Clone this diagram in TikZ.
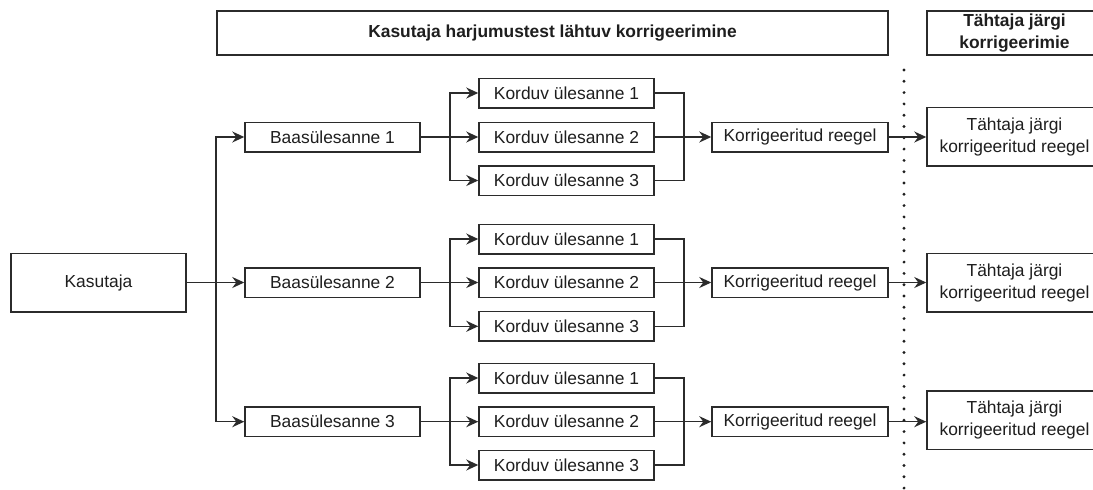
\documentclass[tikz,border=0pt]{standalone}
\usepackage{fontspec}
\setmainfont{Liberation Sans}
\usetikzlibrary{arrows.meta}
\definecolor{ln}{HTML}{2B2B2B}
\definecolor{tx}{HTML}{1E1E1E}
\tikzset{
  x=1pt, y=-1pt,
  box/.style={draw=ln, line width=1.5pt, fill=white, text=tx, inner sep=0pt, align=center,
    font=\fontsize{17.4}{22}\selectfont},
  small/.style={box, minimum width=175pt, minimum height=29.5pt},
  tall/.style={box, minimum width=175pt, minimum height=58.5pt},
  head/.style={box, minimum height=44pt, font=\fontsize{17.4}{22}\selectfont\bfseries},
  conn/.style={draw=ln, line width=1.5pt, -{Stealth[length=12pt,width=11pt,inset=4pt]}},
  line/.style={draw=ln, line width=1.5pt},
  dotline/.style={draw=tx, line width=3.2pt, line cap=round, dash pattern=on 0pt off 11.3pt}
}
\begin{document}
\begin{tikzpicture}
\clip (0,0) rectangle (1093,490);
\useasboundingbox (0,0) rectangle (1093,490);
\fill[white] (0,0) rectangle (1093,490);

% dotted separator
\coordinate (dtop) at (904,70);
\coordinate (dbot) at (904,492);
\draw[dotline] (dtop) -- (dbot);

% headers
\node[head, minimum width=671pt] (h1) at (552.5,33) {Kasutaja harjumustest lähtuv korrigeerimine};
\node[head, minimum width=175pt] (h2) at (1014.5,33) {Tähtaja järgi\\korrigeerimie};

% user
\node[tall] (k) at (98.5,282.5) {Kasutaja};

% base tasks
\node[small] (b1) at (332.5,137) {Baasülesanne 1};
\node[small] (b2) at (332.5,282.5) {Baasülesanne 2};
\node[small] (b3) at (332.5,421.7) {Baasülesanne 3};

% repeated tasks
\node[small] (r11) at (566.5,93) {Korduv ülesanne 1};
\node[small] (r12) at (566.5,137) {Korduv ülesanne 2};
\node[small] (r13) at (566.5,180.5) {Korduv ülesanne 3};
\node[small] (r21) at (566.5,239) {Korduv ülesanne 1};
\node[small] (r22) at (566.5,282.5) {Korduv ülesanne 2};
\node[small] (r23) at (566.5,326.3) {Korduv ülesanne 3};
\node[small] (r31) at (566.5,378) {Korduv ülesanne 1};
\node[small] (r32) at (566.5,421.7) {Korduv ülesanne 2};
\node[small] (r33) at (566.5,465) {Korduv ülesanne 3};

% corrected rules
\node[small, minimum width=176pt] (c1) at (800,137) {Korrigeeritud reegel};
\node[small, minimum width=176pt] (c2) at (800,282.5) {Korrigeeritud reegel};
\node[small, minimum width=176pt] (c3) at (800,421.7) {Korrigeeritud reegel};

% deadline boxes
\node[tall] (t1) at (1014.5,136.5) {Tähtaja järgi\\korrigeeritud reegel};
\node[tall] (t2) at (1014.5,282.5) {Tähtaja järgi\\korrigeeritud reegel};
\node[tall] (t3) at (1014.5,420) {Tähtaja järgi\\korrigeeritud reegel};

% user -> base tasks
\coordinate (jk) at (216,282.5);
\draw[line] (k.east) -- (jk);
\draw[conn] (jk) |- (b1.west);
\draw[conn] (jk) -- (b2.west);
\draw[conn] (jk) |- (b3.west);

% base -> repeated -> corrected -> deadline
\foreach \i in {1,2,3}{
  \coordinate (jb\i) at ([xshift=29pt]b\i.east);
  \draw[line] (b\i.east) -- (jb\i);
  \draw[conn] (jb\i) |- (r\i1.west);
  \draw[conn] (jb\i) -- (r\i2.west);
  \draw[conn] (jb\i) |- (r\i3.west);
  \coordinate (jr\i) at ([xshift=29pt]r\i2.east);
  \draw[line] (r\i1.east) -| (jr\i);
  \draw[line] (r\i3.east) -| (jr\i);
  \draw[line] (r\i2.east) -- (jr\i);
  \draw[conn] (jr\i) -- (c\i.west);
  \draw[conn] (c\i.east) -- (t\i.west |- c\i.east);
}
\end{tikzpicture}
\end{document}
